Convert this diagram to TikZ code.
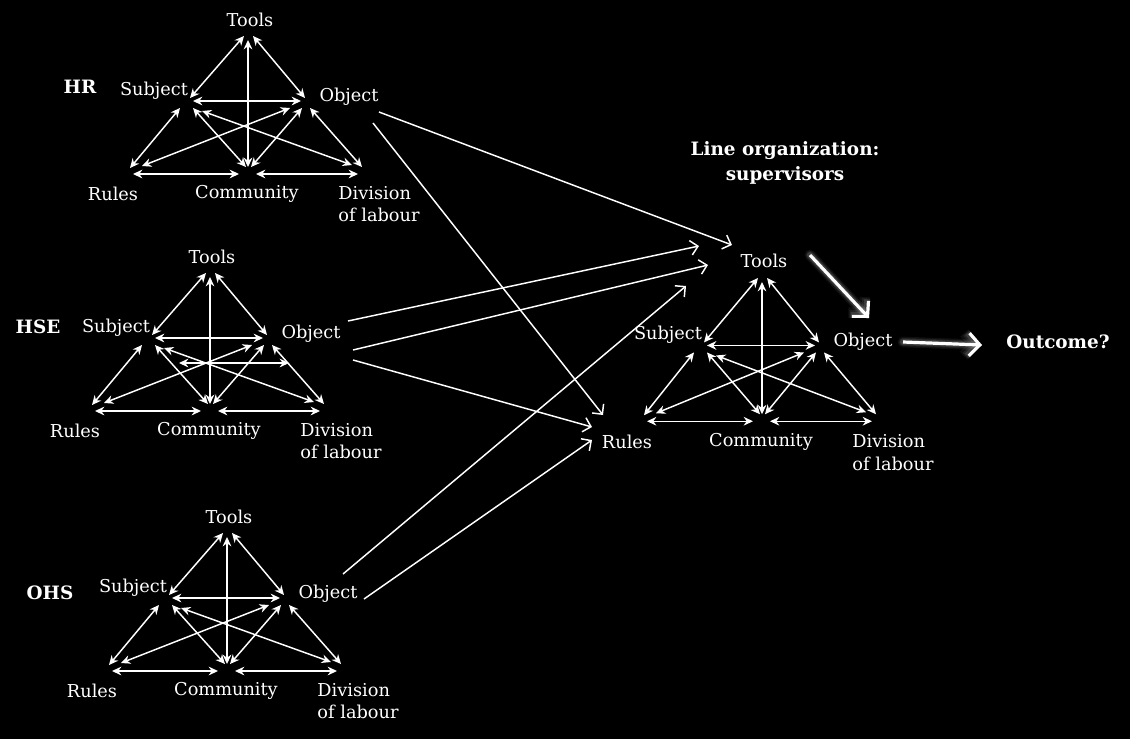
\documentclass[tikz,border=0pt]{standalone}
\usepackage{fontspec}
\setmainfont{DejaVu Serif}
\usetikzlibrary{arrows.meta,calc}
\tikzset{
  lbl/.style={text=white,font=\fontsize{13.3}{17}\selectfont,inner sep=0pt},
  ttl/.style={text=white,font=\bfseries\fontsize{13.8}{19}\selectfont,inner sep=0pt},
  rel/.style={draw=white,line width=1.1pt,{Stealth[length=7pt,width=6.5pt]}-{Stealth[length=7pt,width=6.5pt]}},
  link/.style={draw=white,line width=1.1pt,-{Straight Barb[length=5.5pt,width=11pt,line width=1.1pt]}},
  big/.style={draw=white,line width=2.4pt,-{Straight Barb[length=8pt,width=17pt,line width=2.4pt]}},
  glow/.style={draw=white,opacity=#1,line cap=round,line join=round,-{Straight Barb[length=8pt,width=17pt]}},
}
\newcommand\actsys[4]{%
  \coordinate (#1T) at (#2,#3);
  \coordinate (#1S) at ({#2-58},{#3+61*#4});
  \coordinate (#1O) at ({#2+57},{#3+61*#4});
  \coordinate (#1R) at ({#2-118},{#3+131*#4});
  \coordinate (#1C) at (#2,{#3+131*#4});
  \coordinate (#1D) at ({#2+115},{#3+131*#4});
  \draw[rel] ($(#1T)+(-4,-1)$) -- (#1S);
  \draw[rel] ($(#1T)+(5,-1)$) -- (#1O);
  \draw[rel] ($(#1T)+(0,3)$) -- ($(#1C)+(0,-1)$);
  \draw[rel] ($(#1S)+(3,3)$) -- ($(#1O)+(-4,3)$);
  \draw[rel] ($(#1S)+(-10,10)$) -- (#1R);
  \draw[rel] ($(#1S)+(3,10)$) -- ($(#1C)+(-2,-1)$);
  \draw[rel] ($(#1S)+(12,13)$) -- ($(#1D)+(-11,-3)$);
  \draw[rel] ($(#1O)+(-15,10)$) -- ($(#1R)+(12,-2)$);
  \draw[rel] ($(#1O)+(-3,10)$) -- ($(#1C)+(3,-1)$);
  \draw[rel] ($(#1O)+(5,10)$) -- ($(#1D)+(-1,-1)$);
  \draw[rel] ($(#1R)+(3,6)$) -- ($(#1C)+(-9,6)$);
  \draw[rel] ($(#1C)+(8,6)$) -- ($(#1D)+(-5,6)$);
  \node[lbl] (#1toolsL) at ({#2+2},{#3-17*#4}) {Tools};
  \node[lbl] (#1subjL) at ({#2-94},{#3+54*#4}) {Subject};
  \node[lbl] (#1objL) at ({#2+101},{#3+60*#4}) {Object};
  \node[lbl] (#1rulesL) at ({#2-135},{#3+157*#4}) {Rules};
  \node[lbl] (#1commL) at ({#2-1},{#3+157*#4}) {Community};
  \node[lbl,align=left] (#1divL) at ({#2+131},{#3+167*#4}) {Division\\of labour};
}
\begin{document}
\begin{tikzpicture}[x=0.75pt,y=-0.75pt]
  \fill[black] (0,0) rectangle (1130,739);
  \useasboundingbox (0,0) rectangle (1130,739);

  \actsys{hr}{248}{37}{1}
  \actsys{hse}{210}{274}{1}
  \actsys{ohs}{227}{534}{1}
  \actsys{ln}{762}{279}{1.04}

  % extra arrow in HSE
  \draw[rel] ($(hseT)+(-31,89)$) -- ($(hseT)+(79,89)$);

  % titles
  \node[ttl] (hrT) at (80,87) {HR};
  \node[ttl] (hseTtl) at (38,327) {HSE};
  \node[ttl] (ohsTtl) at (50,593) {OHS};
  \node[ttl,align=center] (lineorg) at (785,163) {Line organization:\\supervisors};
  \node[ttl] (outcome) at (1058,342) {Outcome?};

  % connector endpoints
  \coordinate (hrA) at (379,112);   \coordinate (lnTa) at (732,245);
  \coordinate (hrB) at (373,123);   \coordinate (lnRa) at (603,415);
  \coordinate (hseA) at (348,321);  \coordinate (lnTb) at (699,246);
  \coordinate (hseB) at (353,350);  \coordinate (lnTc) at (708,265);
  \coordinate (hseC) at (353,360);  \coordinate (lnRb) at (592,427);
  \coordinate (ohsA) at (343,574);  \coordinate (lnTd) at (686,286);
  \coordinate (ohsB) at (364,599);  \coordinate (lnRc) at (592,440);

  \draw[link] (hrA) -- (lnTa);
  \draw[link] (hrB) -- (lnRa);
  \draw[link] (hseA) -- (lnTb);
  \draw[link] (hseB) -- (lnTc);
  \draw[link] (hseC) -- (lnRb);
  \draw[link] (ohsA) -- (lnTd);
  \draw[link] (ohsB) -- (lnRc);

  % thick arrows with soft glow
  \coordinate (bigA1) at (810,255); \coordinate (bigA2) at (869,318);
  \coordinate (bigB1) at (903,342); \coordinate (bigB2) at (982,345);
  \foreach \w/\o in {8/0.06,6/0.08,4.5/0.12}{
    \draw[glow=\o,line width=\w pt] (bigA1) -- (bigA2);
    \draw[glow=\o,line width=\w pt] (bigB1) -- (bigB2);
  }
  \draw[big] (bigA1) -- (bigA2);
  \draw[big] (bigB1) -- (bigB2);
\end{tikzpicture}
\end{document}
